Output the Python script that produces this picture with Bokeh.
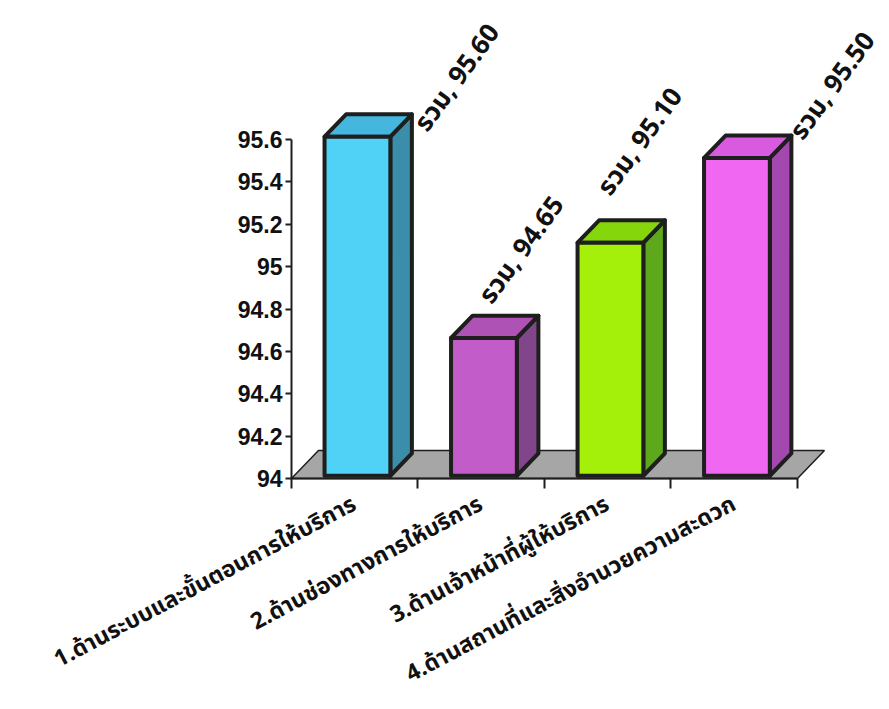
import math

from bokeh.core.properties import value
from bokeh.embed import file_html
from bokeh.models import ColumnDataSource, FixedTicker, NumeralTickFormatter, Range1d
from bokeh.plotting import figure
from bokeh.resources import INLINE

# --- data -------------------------------------------------------------
categories = [
    "1.ด้านระบบและขั้นตอนการให้บริการ",
    "2.ด้านช่องทางการให้บริการ",
    "3.ด้านเจ้าหน้าที่ผู้ให้บริการ",
    "4.ด้านสถานที่และสิ่งอำนวยความสะดวก",
]
series_name = "รวม"
scores = [95.60, 94.65, 95.10, 95.50]
y_ticks = [94, 94.2, 94.4, 94.6, 94.8, 95, 95.2, 95.4, 95.6]

# --- styling ----------------------------------------------------------
front_colors = ["#4FD2F6", "#C25CC8", "#A4F00A", "#F068F2"]
top_colors = ["#45B6DE", "#AE52B6", "#86D60C", "#D85ADE"]
side_colors = ["#3A8EAA", "#81468A", "#5EA81C", "#A248AE"]

# data-label nudges in screen pixels (x right, y down)
label_dx = [66, 4, -4, 62]
label_dy = [-11, -40, -53, -24]

THAI_FONT = "Noto Sans Thai, Noto Sans, Liberation Sans, sans-serif"
NUM_FONT = "Liberation Sans"

Y_MIN, Y_TOP = 94.0, 95.6
Y_START, Y_END = 92.91, 96.256
X_START, X_END = -2.3004, 4.7273

# pseudo-3D depth of the floor, in data units
DEPTH_X = 0.213
DEPTH_Y = 0.132
BAR_HALF = 0.26
F0, F1 = 0.10, 0.90  # front / back of each bar along the depth

# the plot frame spans the whole canvas; both axes are pinned to data
# coordinates so that long rotated labels are never clipped
p = figure(
    width=889,
    height=709,
    x_range=Range1d(X_START, X_END),
    y_range=Range1d(Y_START, Y_END),
    output_backend="svg",
    toolbar_location=None,
    min_border=0,
)
p.outline_line_color = None
p.grid.visible = False
p.background_fill_color = "white"
p.border_fill_color = "white"

# floor
floor_x = [0, len(categories), len(categories) + DEPTH_X, DEPTH_X]
floor_y = [Y_MIN, Y_MIN, Y_MIN + DEPTH_Y, Y_MIN + DEPTH_Y]
p.patch(floor_x, floor_y, fill_color="#A6A6A6", line_color="#1E1E1E", line_width=1.5)

# bar faces
fx, fy, tx, ty, sx, sy = [], [], [], [], [], []
for i, v in enumerate(scores):
    c = i + 0.5
    l, r = c - BAR_HALF, c + BAR_HALF
    ox0, oy0 = F0 * DEPTH_X, F0 * DEPTH_Y
    ox1, oy1 = F1 * DEPTH_X, F1 * DEPTH_Y
    fx.append([l + ox0, r + ox0, r + ox0, l + ox0])
    fy.append([Y_MIN + oy0, Y_MIN + oy0, v + oy0, v + oy0])
    tx.append([l + ox0, r + ox0, r + ox1, l + ox1])
    ty.append([v + oy0, v + oy0, v + oy1, v + oy1])
    sx.append([r + ox0, r + ox1, r + ox1, r + ox0])
    sy.append([Y_MIN + oy0, Y_MIN + oy1, v + oy1, v + oy0])

face_style = dict(line_color="#1E1E1E", line_width=4, line_join="round")
p.patches(sx, sy, fill_color=side_colors, **face_style)
p.patches(tx, ty, fill_color=top_colors, **face_style)
p.patches(fx, fy, fill_color=front_colors, **face_style)

# value labels
lab_src = ColumnDataSource(dict(
    x=[i + 0.5 for i in range(len(scores))],
    y=scores,
    text=[f"{series_name}, {v:.2f}" for v in scores],
    dx=label_dx,
    dy=label_dy,
))
p.text(
    x="x", y="y", text="text", source=lab_src,
    x_offset="dx", y_offset="dy",
    angle=math.radians(54),
    text_font=value(THAI_FONT), text_font_size="26px", text_font_style="bold",
    text_color="#111111", text_align="left", text_baseline="alphabetic",
)

# y axis pinned at the first category boundary
ya = p.yaxis[0]
ya.fixed_location = 0
ya.ticker = FixedTicker(ticks=y_ticks)
ya.formatter = NumeralTickFormatter(format="0.[0]")
ya.bounds = (Y_MIN, Y_TOP)
ya.axis_line_width = 2
ya.axis_line_color = "#1E1E1E"
ya.major_tick_line_width = 2
ya.major_tick_line_color = "#1E1E1E"
ya.major_tick_out = 6
ya.major_tick_in = 0
ya.minor_tick_line_color = None
ya.major_label_standoff = 3
ya.major_label_text_font = NUM_FONT
ya.major_label_text_font_size = "23px"
ya.major_label_text_font_style = "bold"
ya.major_label_text_color = "#111111"

# x axis pinned to the floor line: category boundaries as ticks,
# names centred between them
xa = p.xaxis[0]
xa.fixed_location = Y_MIN
xa.ticker = FixedTicker(
    ticks=[i + 0.5 for i in range(len(categories))],
    minor_ticks=list(range(len(categories) + 1)),
)
xa.major_label_overrides = {i + 0.5: name for i, name in enumerate(categories)}
xa.major_label_orientation = math.radians(28)
xa.bounds = (0, len(categories))
xa.axis_line_width = 2
xa.axis_line_color = "#1E1E1E"
xa.major_tick_line_color = None
xa.minor_tick_line_color = "#1E1E1E"
xa.minor_tick_line_width = 2
xa.minor_tick_out = 10
xa.minor_tick_in = 0
xa.major_label_standoff = 14
xa.major_label_text_font = THAI_FONT
xa.major_label_text_font_size = "23px"
xa.major_label_text_font_style = "bold"
xa.major_label_text_color = "#111111"

open("out.html", "w").write(file_html(p, INLINE))
